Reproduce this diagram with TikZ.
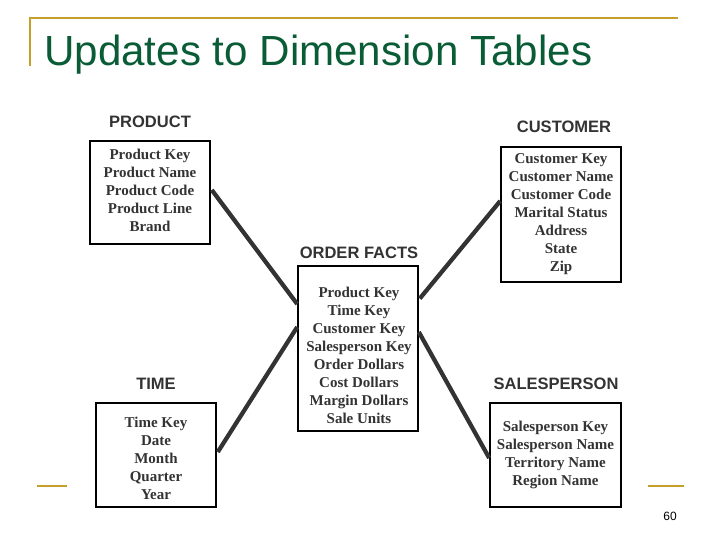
\documentclass[tikz,border=0pt]{standalone}
\usepackage{fontspec}
\setmainfont{Liberation Serif}
\setsansfont{Liberation Sans}
\usetikzlibrary{calc}
\definecolor{gold}{RGB}{196,160,42}
\definecolor{titlegreen}{RGB}{10,92,54}
\definecolor{ink}{RGB}{51,51,51}
\begin{document}
\begin{tikzpicture}[x=0.75pt,y=-0.75pt,
  tbox/.style={draw=black,line width=1.2pt,fill=white,inner sep=0pt},
  tlabel/.style={font=\sffamily\bfseries\fontsize{12.4pt}{14pt}\selectfont,text=ink,inner sep=0pt},
  ttext/.style={font=\rmfamily\bfseries\fontsize{11.25pt}{13.5pt}\selectfont,text=ink,align=center,inner sep=0pt},
  link/.style={draw=ink,line width=3.2pt}]
\useasboundingbox (0,0) rectangle (720,540);
% decorative rules
\coordinate (r1) at (30,18);
\coordinate (r2) at (678,18);
\coordinate (r3) at (30,66);
\draw[gold,line width=2.2pt] (r3) -- (r1) -- (r2);
\coordinate (s1) at (37,486);
\coordinate (s2) at (67,486);
\coordinate (s3) at (648,486);
\coordinate (s4) at (684,486);
\draw[gold,line width=2.2pt] (s1) -- (s2);
\draw[gold,line width=2.2pt] (s3) -- (s4);
% title
\node[anchor=base west,inner sep=0pt,text=titlegreen,font=\sffamily\fontsize{31.6pt}{36pt}\selectfont] (title) at (44,65) {Updates to Dimension Tables};
\node[inner sep=0pt,font=\sffamily\fontsize{9pt}{10pt}\selectfont] (page) at (670,516) {60};
% boxes
\node[tbox,minimum width=90pt,minimum height=77.25pt] (prod) at (150,192.5) {};
\node[tbox,minimum width=90pt,minimum height=101.25pt] (cust) at (561,214.5) {};
\node[tbox,minimum width=90pt,minimum height=123.75pt] (facts) at (358,348.5) {};
\node[tbox,minimum width=90pt,minimum height=78pt] (time) at (156,455) {};
\node[tbox,minimum width=98.25pt,minimum height=78pt] (sales) at (555.5,455) {};
% labels
\node[tlabel] (prodl) at (150,122) {PRODUCT};
\node[tlabel] (custl) at (564,127) {CUSTOMER};
\node[tlabel] (factsl) at (359,253) {ORDER FACTS};
\node[tlabel] (timel) at (156,384) {TIME};
\node[tlabel] (salesl) at (556,384) {SALESPERSON};
% contents
\node[ttext] (prodt) at (150,190) {Product Key\\Product Name\\Product Code\\Product Line\\Brand};
\node[ttext] (custt) at (561,214) {Customer Key\\Customer Name\\Customer Code\\Marital Status\\Address\\State\\Zip};
\node[ttext] (factst) at (359,355) {Product Key\\Time Key\\Customer Key\\Salesperson Key\\Order Dollars\\Cost Dollars\\Margin Dollars\\Sale Units};
\node[ttext] (timet) at (156,458) {Time Key\\Date\\Month\\Quarter\\Year};
\node[ttext] (salest) at (555.5,455) {Salesperson Key\\Salesperson Name\\Territory Name\\Region Name};
% connectors
\draw[link] ($(prod.east)+(1,-2.5)$) -- ($(facts.west)+(0,-44.5)$);
\draw[link] ($(time.east)+(1,-3)$) -- ($(facts.west)+(0,-21.5)$);
\draw[link] ($(cust.west)+(0,-13.5)$) -- ($(facts.east)+(1,-50)$);
\draw[link] ($(sales.west)+(0,3)$) -- ($(facts.east)+(0,-16.5)$);
\end{tikzpicture}
\end{document}
